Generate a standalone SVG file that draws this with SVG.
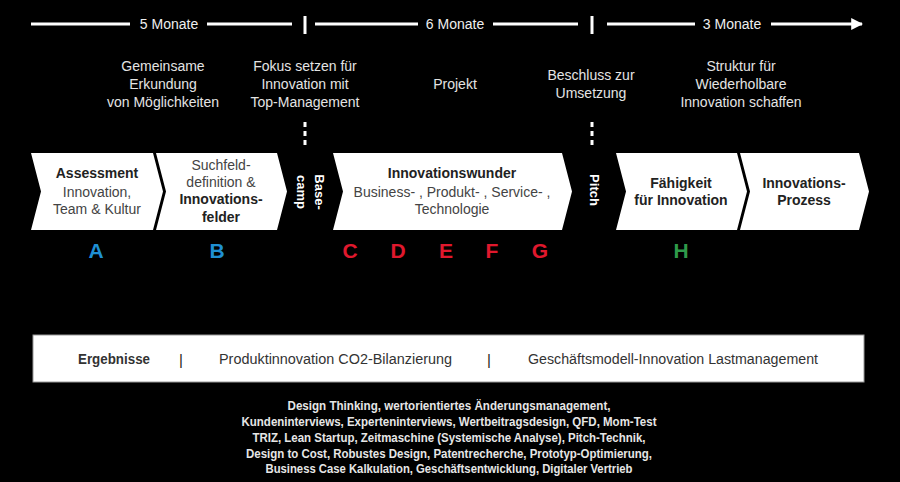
<svg xmlns="http://www.w3.org/2000/svg" width="900" height="482" viewBox="0 0 900 482">
<defs>
<style>
text{font-family:"Liberation Sans",Arial,sans-serif}
.tl{fill:#eeeeee;font-size:14px;text-anchor:middle}
.desc{fill:#e4e4e4;font-size:14px;text-anchor:middle}
.chev{fill:#ffffff}
.ct{fill:#222;font-size:14px;text-anchor:middle}
.cr{fill:#444;font-size:14px;text-anchor:middle}
.b{font-weight:bold}
.vt{fill:#ffffff;font-size:13px;font-weight:bold;text-anchor:middle}
.let{font-size:21px;font-weight:bold;text-anchor:middle}
.blue{fill:#1f8fd3}
.red{fill:#e0182d}
.green{fill:#2f9a4a}
.res{fill:#333;font-size:14px}
.sep{fill:#222;font-size:15px;text-anchor:middle}
.bt{fill:#e6e6e6;font-size:12.5px;font-weight:bold;text-anchor:middle}
.line{stroke:#ffffff;stroke-width:3;fill:none}
.dash{stroke:#ffffff;stroke-width:3;stroke-dasharray:5,4;fill:none}
</style>
<marker id="arr" viewBox="0 0 10 10" refX="9" refY="5" markerWidth="4" markerHeight="4" orient="auto" markerUnits="strokeWidth">
<path d="M0,0 L10,5 L0,10 z" fill="#ffffff"/>
</marker>
</defs>
<rect width="900" height="482" fill="#000000"/>

<g id="connectors">
<line class="line" x1="31" y1="24" x2="130" y2="24"/>
<line class="line" x1="207" y1="24" x2="292" y2="24"/>
<line class="line" x1="305" y1="16" x2="305" y2="34"/>
<line class="line" x1="315" y1="24" x2="418" y2="24"/>
<line class="line" x1="493" y1="24" x2="578" y2="24"/>
<line class="line" x1="592" y1="16" x2="592" y2="34"/>
<line class="line" x1="607" y1="24" x2="695" y2="24"/>
<line class="line" x1="771" y1="24" x2="862" y2="24" marker-end="url(#arr)"/>
<line class="dash" x1="305" y1="122" x2="305" y2="148"/>
<line class="dash" x1="592" y1="122" x2="592" y2="148"/>
</g>

<g id="timeline-labels">
<text class="tl" x="169" y="29">5 Monate</text>
<text class="tl" x="455" y="29">6 Monate</text>
<text class="tl" x="732" y="29">3 Monate</text>
</g>

<g id="desc-1">
<text class="desc" x="163" y="71">Gemeinsame</text>
<text class="desc" x="163" y="89">Erkundung</text>
<text class="desc" x="163" y="107">von Möglichkeiten</text>
</g>
<g id="desc-2">
<text class="desc" x="305" y="71">Fokus setzen für</text>
<text class="desc" x="305" y="89">Innovation mit</text>
<text class="desc" x="305" y="107">Top-Management</text>
</g>
<g id="desc-3">
<text class="desc" x="455" y="89">Projekt</text>
</g>
<g id="desc-4">
<text class="desc" x="591" y="80">Beschluss zur</text>
<text class="desc" x="591" y="98">Umsetzung</text>
</g>
<g id="desc-5">
<text class="desc" x="741" y="71">Struktur für</text>
<text class="desc" x="741" y="89">Wiederholbare</text>
<text class="desc" x="741" y="107">Innovation schaffen</text>
</g>

<g id="node-assessment">
<polygon class="chev" points="31,153 153,153 163,191.5 153,230 31,230 41,191.5"/>
<text class="ct b" x="97" y="178">Assessment</text>
<text class="cr" x="97" y="197">Innovation,</text>
<text class="cr" x="97" y="214">Team &amp; Kultur</text>
</g>
<g id="node-suchfeld">
<polygon class="chev" points="156,153 277,153 287,191.5 277,230 156,230 166,191.5"/>
<text class="cr" x="221" y="170">Suchfeld-</text>
<text class="cr" x="221" y="187">definition &amp;</text>
<text class="ct b" x="221" y="204">Innovations-</text>
<text class="ct b" x="221" y="222">felder</text>
</g>
<g id="node-basecamp">
<text class="vt" transform="translate(315,192) rotate(90)" x="0" y="0">Base-</text>
<text class="vt" transform="translate(297,192) rotate(90)" x="0" y="0">camp</text>
</g>
<g id="node-innovationswunder">
<polygon class="chev" points="333,153 562,153 572,191.5 562,230 333,230 343,191.5"/>
<text class="ct b" x="452" y="178">Innovationswunder</text>
<text class="cr" x="452" y="197">Business- , Produkt- , Service- ,</text>
<text class="cr" x="452" y="214">Technologie</text>
</g>
<g id="node-pitch">
<text class="vt" transform="translate(590,190) rotate(90)" x="0" y="0">Pitch</text>
</g>
<g id="node-faehigkeit">
<polygon class="chev" points="616,153 737,153 747,191.5 737,230 616,230 626,191.5"/>
<text class="ct b" x="681" y="188">Fähigkeit</text>
<text class="ct b" x="681" y="205">für Innovation</text>
</g>
<g id="node-prozess">
<polygon class="chev" points="740,153 859,153 869,191.5 859,230 740,230 750,191.5"/>
<text class="ct b" x="804" y="188">Innovations-</text>
<text class="ct b" x="804" y="205">Prozess</text>
</g>

<g id="letters">
<text class="let blue" x="96" y="258">A</text>
<text class="let blue" x="217" y="258">B</text>
<text class="let red" x="350" y="258">C</text>
<text class="let red" x="398" y="258">D</text>
<text class="let red" x="446" y="258">E</text>
<text class="let red" x="492" y="258">F</text>
<text class="let red" x="540" y="258">G</text>
<text class="let green" x="681" y="258">H</text>
</g>

<g id="node-ergebnisse">
<rect x="33" y="335" width="831" height="47" fill="#ffffff" stroke="#999" stroke-width="1"/>
<text class="res b" x="78" y="364" textLength="72" lengthAdjust="spacingAndGlyphs">Ergebnisse</text>
<text class="sep" x="181" y="365">|</text>
<text class="res" x="219" y="364" textLength="233" lengthAdjust="spacingAndGlyphs">Produktinnovation CO2-Bilanzierung</text>
<text class="sep" x="489" y="365">|</text>
<text class="res" x="528" y="364" textLength="290" lengthAdjust="spacingAndGlyphs">Geschäftsmodell-Innovation Lastmanagement</text>
</g>

<g id="methods">
<text class="bt" x="449" y="410" textLength="323" lengthAdjust="spacingAndGlyphs">Design Thinking, wertorientiertes Änderungsmanagement,</text>
<text class="bt" x="449" y="426" textLength="415" lengthAdjust="spacingAndGlyphs">Kundeninterviews, Experteninterviews, Wertbeitragsdesign, QFD, Mom-Test</text>
<text class="bt" x="449" y="442" textLength="393" lengthAdjust="spacingAndGlyphs">TRIZ, Lean Startup, Zeitmaschine (Systemische Analyse), Pitch-Technik,</text>
<text class="bt" x="449" y="458" textLength="406" lengthAdjust="spacingAndGlyphs">Design to Cost, Robustes Design, Patentrecherche, Prototyp-Optimierung,</text>
<text class="bt" x="449" y="473" textLength="367" lengthAdjust="spacingAndGlyphs">Business Case Kalkulation, Geschäftsentwicklung, Digitaler Vertrieb</text>
</g>
</svg>
